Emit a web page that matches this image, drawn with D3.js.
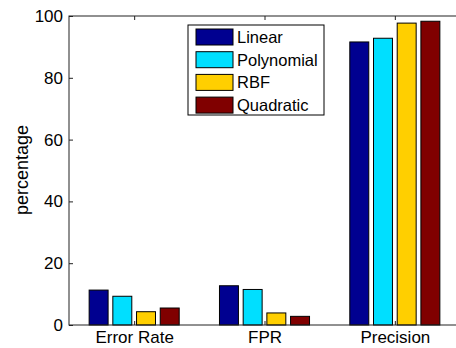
<!DOCTYPE html>
<html>
<head>
<meta charset="utf-8">
<script src="https://cdn.jsdelivr.net/npm/d3@7"></script>
<style>
  body { margin: 0; background: #fff; }
  svg { display: block; font-family: "Liberation Sans", Arial, sans-serif; }
</style>
</head>
<body>
<div id="chart"></div>
<script>
// data
const categories = ["Error Rate", "FPR", "Precision"];
const seriesNames = ["Linear", "Polynomial", "RBF", "Quadratic"];
const linear = [11.3, 12.7, 91.6];
const polynomial = [9.3, 11.5, 92.8];
const rbf = [4.3, 3.9, 97.7];
const quadratic = [5.5, 2.8, 98.3];
const yTicks = [0, 20, 40, 60, 80, 100];

const series = [linear, polynomial, rbf, quadratic];
const colors = ["#000090", "#00dfff", "#ffcf00", "#800000"];

const W = 456, H = 348;
// plot box runs a bit past the right edge, like the cropped original
const margin = { top: 16, left: 69, bottom: 23 };
const plotRight = 460;
const height = H - margin.top - margin.bottom;

const svg = d3.select("#chart").append("svg")
  .attr("width", W)
  .attr("height", H);

// matlab style: groups at 1..3, xlim [0.5, 3.5]
const x = d3.scaleLinear().domain([0.5, 3.5]).range([margin.left, plotRight]);
const y = d3.scaleLinear().domain([0, 100]).range([margin.top + height, margin.top]);

const groupWidth = Math.min(0.8, 4 / (4 + 1.5));
const step = groupWidth / 4;
const barW = step * 0.8;

// bars
series.forEach((vals, s) => {
  svg.append("g").selectAll("rect")
    .data(vals)
    .enter().append("rect")
    .attr("x", (d, i) => x(i + 1 - groupWidth / 2 + step * s + (step - barW) / 2))
    .attr("y", d => y(d))
    .attr("width", x(barW) - x(0))
    .attr("height", d => y(0) - y(d))
    .attr("fill", colors[s])
    .attr("stroke", "#000")
    .attr("stroke-width", 1);
});

// axes (ticks point inward)
const tickLen = 4;
const axisLeft = svg.append("g")
  .attr("transform", "translate(" + margin.left + ",0)")
  .call(d3.axisLeft(y).tickValues(yTicks).tickSize(-tickLen).tickPadding(6));
const axisRight = svg.append("g")
  .attr("transform", "translate(" + plotRight + ",0)")
  .call(d3.axisRight(y).tickValues(yTicks).tickSize(-tickLen).tickFormat(""));
const axisBottom = svg.append("g")
  .attr("transform", "translate(0," + y(0) + ")")
  .call(d3.axisBottom(x).tickValues([1, 2, 3]).tickSize(-tickLen).tickPadding(6)
    .tickFormat((d) => categories[d - 1]));
const axisTop = svg.append("g")
  .attr("transform", "translate(0," + y(100) + ")")
  .call(d3.axisTop(x).tickValues([1, 2, 3]).tickSize(-tickLen).tickFormat(""));

[axisLeft, axisRight, axisBottom, axisTop].forEach(a => {
  a.select(".domain").remove();
  a.selectAll(".tick line").attr("stroke", "#222");
  a.selectAll("text").attr("fill", "#000").style("font-size", "17px");
});
// plain box instead of domain paths
svg.append("rect")
  .attr("x", margin.left).attr("y", y(100))
  .attr("width", plotRight - margin.left).attr("height", y(0) - y(100))
  .attr("fill", "none").attr("stroke", "#222").attr("stroke-width", 1);

// y label
svg.append("text")
  .attr("transform", "translate(28,170) rotate(-90)")
  .attr("text-anchor", "middle")
  .style("font-size", "18px")
  .text("percentage");

// legend
const legend = svg.append("g").attr("transform", "translate(188,25)");
legend.append("rect")
  .attr("width", 136).attr("height", 90)
  .attr("fill", "#fff").attr("stroke", "#000");
seriesNames.forEach((name, i) => {
  const row = legend.append("g").attr("transform", "translate(8," + (4 + i * 22.7) + ")");
  row.append("rect")
    .attr("width", 37).attr("height", 16)
    .attr("fill", colors[i]).attr("stroke", "#000");
  row.append("text")
    .attr("x", 41).attr("y", 14)
    .style("font-size", "16.5px")
    .text(name);
});
</script>
</body>
</html>
